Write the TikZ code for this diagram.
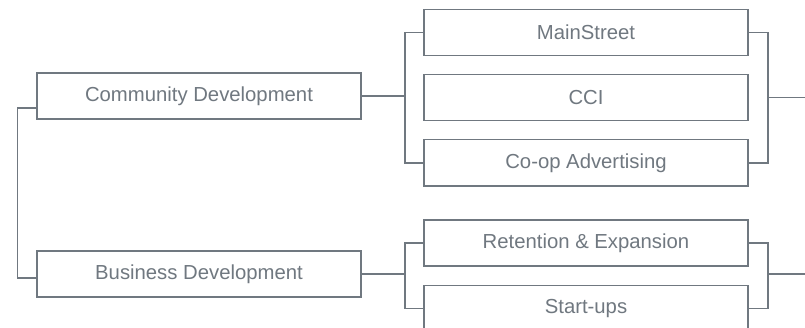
\documentclass[tikz,border=0pt]{standalone}
\usepackage{fontspec}
\setmainfont{Liberation Sans}
\usepackage{tikz}
\usetikzlibrary{positioning,calc}
\definecolor{boxgray}{RGB}{112,120,128}
\tikzset{
  unit/.style={draw=boxgray, line width=1.2pt, fill=white, minimum width=324pt,
               minimum height=46pt, inner sep=0pt, text=boxgray,
               font=\fontsize{20.3}{23}\selectfont},
  link/.style={draw=boxgray, line width=1.2pt}
}

\begin{document}
\begin{tikzpicture}[x=1pt, y=1pt]
        \clip (0,0) rectangle (805,327);
        % left column
        \node[unit] (comm) at (199,231) {Community Development};
        \node[unit] (bus) at (199,53) {Business Development};
        % right column
        \node[unit] (main) at (586,294.5) {MainStreet};
        \node[unit, below=18pt of main] (cci) {CCI};
        \node[unit, below=18pt of cci] (coop) {Co-op Advertising};
        \node[unit] (ret) at (586,84) {Retention \& Expansion};
        \node[unit, below=18pt of ret] (start) {Start-ups};
        % junction lines
        \coordinate (lj) at (405,0);
        \coordinate (rj) at (768,0);
        \coordinate (out) at (805,0);
        \draw[link] ([yshift=-12pt]comm.west) -- ++(-19pt,0) |- ([yshift=-4pt]bus.west);
        \draw[link] (comm.east) -- (comm.east -| lj);
        \draw[link] (main.west) -- (main.west -| lj) |- (coop.west);
        \draw[link] (main.east) -- (main.east -| rj) |- (coop.east);
        \draw[link] (cci.east -| rj) -- (cci.east -| out);
        \draw[link] (bus.east) -- (bus.east -| lj);
        \draw[link] (ret.west) -- (ret.west -| lj) |- (start.west);
        \draw[link] (ret.east) -- (ret.east -| rj) |- (start.east);
        \draw[link] (bus.east -| rj) -- (bus.east -| out);
      \end{tikzpicture}
\end{document}
